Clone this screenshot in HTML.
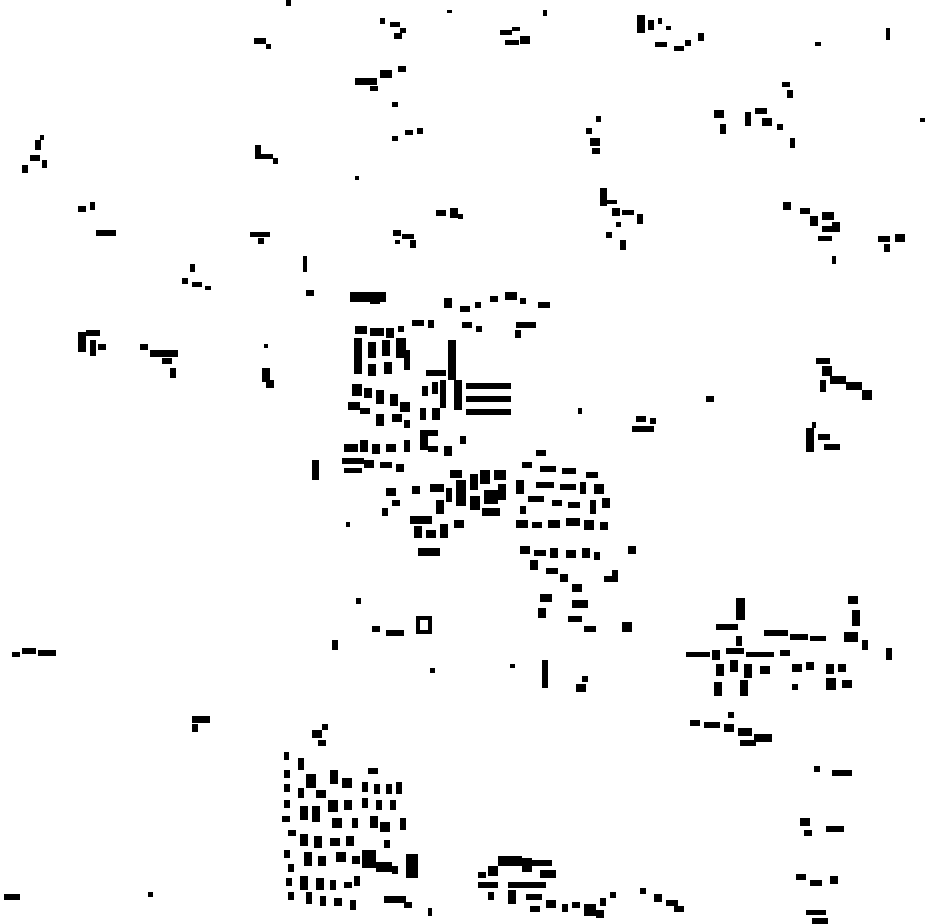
<!DOCTYPE html>
<html><head><meta charset="utf-8"><style>html,body{margin:0;padding:0;background:#fff}svg{display:block}</style></head>
<body>
<svg width="930" height="924" viewBox="0 0 930 924" xmlns="http://www.w3.org/2000/svg">
<g fill="#000">
<!-- top area -->
<rect x="286" y="0" width="5" height="6"/><rect x="254" y="38" width="12" height="6"/><rect x="266" y="44" width="5" height="5"/>
<rect x="380" y="18" width="5" height="6"/><rect x="390" y="22" width="10" height="5"/><rect x="394" y="33" width="8" height="6"/><rect x="400" y="28" width="6" height="5"/>
<rect x="447" y="10" width="5" height="3"/><rect x="543" y="10" width="4" height="6"/>
<rect x="500" y="30" width="12" height="5"/><rect x="505" y="40" width="14" height="5"/><rect x="520" y="36" width="10" height="8"/><rect x="512" y="27" width="8" height="4"/>
<rect x="637" y="15" width="8" height="18"/><rect x="648" y="20" width="6" height="10"/><rect x="658" y="18" width="4" height="6"/><rect x="655" y="42" width="12" height="5"/><rect x="674" y="46" width="10" height="5"/><rect x="685" y="40" width="6" height="6"/><rect x="698" y="33" width="6" height="8"/><rect x="666" y="26" width="5" height="4"/>
<rect x="815" y="42" width="6" height="4"/><rect x="886" y="28" width="4" height="12"/>
<rect x="355" y="78" width="22" height="7"/><rect x="380" y="70" width="12" height="8"/><rect x="398" y="66" width="8" height="6"/><rect x="370" y="86" width="8" height="5"/><rect x="392" y="102" width="6" height="5"/>
<rect x="782" y="82" width="8" height="5"/><rect x="787" y="90" width="6" height="8"/>
<rect x="714" y="110" width="10" height="8"/><rect x="720" y="124" width="6" height="10"/><rect x="745" y="112" width="6" height="14"/><rect x="755" y="108" width="12" height="6"/><rect x="762" y="118" width="10" height="8"/><rect x="777" y="124" width="6" height="6"/><rect x="790" y="138" width="5" height="10"/>
<rect x="405" y="130" width="8" height="5"/><rect x="417" y="128" width="6" height="6"/><rect x="392" y="136" width="6" height="5"/>
<rect x="586" y="128" width="6" height="6"/><rect x="590" y="138" width="10" height="8"/><rect x="596" y="116" width="5" height="6"/><rect x="592" y="148" width="8" height="6"/><rect x="920" y="118" width="5" height="4"/>
<rect x="35" y="140" width="6" height="10"/><rect x="30" y="155" width="10" height="6"/><rect x="22" y="165" width="6" height="8"/><rect x="42" y="160" width="5" height="8"/><rect x="40" y="135" width="4" height="5"/>
<rect x="255" y="145" width="6" height="14"/><rect x="255" y="154" width="18" height="5"/><rect x="273" y="158" width="5" height="6"/><rect x="355" y="176" width="4" height="4"/>
<rect x="600" y="188" width="7" height="18"/><rect x="607" y="200" width="10" height="4"/><rect x="612" y="208" width="8" height="8"/><rect x="622" y="210" width="12" height="5"/><rect x="637" y="214" width="6" height="10"/><rect x="606" y="232" width="6" height="6"/><rect x="620" y="240" width="6" height="10"/><rect x="616" y="222" width="5" height="5"/>
<rect x="783" y="202" width="8" height="8"/><rect x="800" y="208" width="10" height="6"/><rect x="810" y="216" width="8" height="10"/><rect x="822" y="212" width="12" height="8"/><rect x="822" y="226" width="10" height="6"/><rect x="832" y="222" width="8" height="10"/><rect x="818" y="236" width="14" height="5"/><rect x="832" y="256" width="4" height="8"/>
<rect x="878" y="236" width="12" height="6"/><rect x="895" y="234" width="10" height="8"/><rect x="884" y="244" width="6" height="8"/>
<rect x="78" y="206" width="8" height="6"/><rect x="90" y="202" width="5" height="8"/><rect x="96" y="230" width="20" height="6"/>
<rect x="436" y="210" width="10" height="6"/><rect x="450" y="208" width="8" height="10"/><rect x="458" y="214" width="5" height="5"/>
<rect x="250" y="232" width="20" height="5"/><rect x="258" y="238" width="6" height="6"/>
<rect x="393" y="230" width="8" height="6"/><rect x="402" y="234" width="12" height="5"/><rect x="410" y="240" width="6" height="8"/><rect x="395" y="240" width="5" height="4"/>
<rect x="190" y="264" width="5" height="8"/><rect x="182" y="278" width="6" height="6"/><rect x="192" y="282" width="10" height="5"/><rect x="205" y="286" width="6" height="4"/>
<rect x="303" y="256" width="4" height="16"/><rect x="306" y="290" width="8" height="6"/>
<!-- central cluster -->
<rect x="350" y="292" width="36" height="10"/><rect x="370" y="294" width="10" height="10"/>
<rect x="444" y="298" width="8" height="10"/><rect x="460" y="306" width="10" height="6"/><rect x="490" y="296" width="8" height="6"/><rect x="505" y="292" width="12" height="8"/><rect x="520" y="298" width="6" height="6"/><rect x="538" y="302" width="12" height="6"/><rect x="475" y="302" width="6" height="6"/>
<rect x="355" y="326" width="12" height="8"/><rect x="370" y="328" width="14" height="8"/><rect x="386" y="328" width="8" height="10"/><rect x="398" y="326" width="6" height="6"/>
<rect x="412" y="320" width="12" height="6"/><rect x="428" y="320" width="6" height="8"/><rect x="462" y="322" width="10" height="6"/><rect x="476" y="326" width="6" height="6"/><rect x="516" y="322" width="20" height="6"/><rect x="515" y="330" width="6" height="8"/>
<rect x="354" y="338" width="8" height="36"/><rect x="368" y="342" width="8" height="16"/><rect x="382" y="340" width="8" height="16"/><rect x="396" y="338" width="10" height="20"/><rect x="404" y="350" width="6" height="20"/>
<rect x="368" y="364" width="8" height="12"/><rect x="384" y="362" width="8" height="12"/>
<rect x="448" y="340" width="8" height="40"/><rect x="426" y="370" width="20" height="6"/>
<rect x="466" y="383" width="45" height="6"/><rect x="466" y="396" width="45" height="6"/><rect x="466" y="409" width="45" height="6"/>
<rect x="352" y="384" width="10" height="12"/><rect x="364" y="388" width="8" height="10"/><rect x="376" y="390" width="8" height="14"/><rect x="390" y="394" width="8" height="12"/><rect x="400" y="402" width="10" height="10"/><rect x="348" y="402" width="12" height="8"/><rect x="360" y="408" width="10" height="6"/>
<rect x="422" y="386" width="6" height="10"/><rect x="432" y="382" width="6" height="12"/><rect x="440" y="380" width="6" height="28"/><rect x="454" y="380" width="8" height="30"/><rect x="420" y="408" width="6" height="12"/><rect x="432" y="408" width="8" height="12"/>
<rect x="376" y="414" width="8" height="12"/><rect x="392" y="414" width="10" height="8"/><rect x="404" y="420" width="6" height="8"/>
<rect x="420" y="430" width="8" height="20"/><rect x="428" y="430" width="10" height="6"/><rect x="428" y="446" width="10" height="6"/><rect x="460" y="436" width="6" height="8"/><rect x="444" y="446" width="8" height="10"/>
<rect x="344" y="444" width="14" height="8"/><rect x="360" y="440" width="8" height="12"/><rect x="372" y="444" width="8" height="10"/><rect x="386" y="444" width="10" height="8"/><rect x="404" y="440" width="6" height="12"/>
<rect x="342" y="458" width="22" height="6"/><rect x="344" y="468" width="18" height="5"/><rect x="364" y="460" width="10" height="8"/><rect x="380" y="462" width="12" height="6"/><rect x="396" y="464" width="8" height="8"/>
<rect x="312" y="460" width="7" height="20"/>
<rect x="450" y="470" width="12" height="8"/><rect x="430" y="484" width="14" height="8"/><rect x="446" y="488" width="6" height="14"/><rect x="456" y="480" width="10" height="26"/><rect x="470" y="474" width="8" height="16"/><rect x="480" y="470" width="10" height="14"/><rect x="494" y="470" width="12" height="10"/><rect x="470" y="496" width="10" height="14"/><rect x="484" y="490" width="14" height="14"/><rect x="482" y="508" width="18" height="8"/><rect x="498" y="484" width="8" height="16"/><rect x="436" y="500" width="8" height="14"/>
<rect x="386" y="488" width="10" height="8"/><rect x="392" y="500" width="8" height="6"/><rect x="382" y="508" width="6" height="8"/><rect x="412" y="486" width="8" height="8"/>
<rect x="536" y="450" width="10" height="6"/><rect x="522" y="462" width="10" height="6"/><rect x="540" y="466" width="16" height="6"/><rect x="562" y="468" width="14" height="6"/><rect x="536" y="482" width="18" height="6"/><rect x="560" y="484" width="16" height="6"/><rect x="586" y="472" width="12" height="6"/><rect x="580" y="482" width="6" height="12"/><rect x="594" y="484" width="10" height="10"/><rect x="516" y="480" width="8" height="14"/><rect x="528" y="496" width="16" height="6"/><rect x="552" y="500" width="10" height="6"/><rect x="568" y="502" width="12" height="6"/><rect x="590" y="500" width="6" height="14"/><rect x="602" y="498" width="8" height="10"/><rect x="520" y="506" width="6" height="8"/>
<rect x="410" y="516" width="22" height="8"/><rect x="414" y="526" width="8" height="12"/><rect x="426" y="530" width="10" height="8"/><rect x="440" y="524" width="8" height="14"/><rect x="454" y="520" width="10" height="8"/><rect x="418" y="548" width="22" height="8"/><rect x="346" y="522" width="4" height="5"/>
<rect x="516" y="520" width="12" height="8"/><rect x="532" y="522" width="10" height="6"/><rect x="548" y="520" width="12" height="8"/><rect x="566" y="518" width="14" height="8"/><rect x="584" y="520" width="10" height="10"/><rect x="600" y="522" width="8" height="8"/>
<rect x="520" y="546" width="10" height="8"/><rect x="534" y="550" width="12" height="6"/><rect x="550" y="548" width="8" height="10"/><rect x="566" y="550" width="10" height="8"/><rect x="582" y="548" width="8" height="10"/><rect x="594" y="552" width="6" height="8"/><rect x="628" y="546" width="8" height="8"/>
<rect x="530" y="560" width="8" height="10"/><rect x="546" y="568" width="12" height="6"/><rect x="560" y="574" width="8" height="8"/><rect x="604" y="576" width="14" height="6"/><rect x="612" y="570" width="6" height="6"/>
<rect x="540" y="594" width="12" height="8"/><rect x="572" y="584" width="10" height="8"/><rect x="572" y="600" width="16" height="8"/><rect x="538" y="608" width="8" height="10"/><rect x="568" y="616" width="14" height="6"/><rect x="584" y="626" width="12" height="6"/><rect x="622" y="622" width="10" height="10"/>
<rect x="356" y="598" width="5" height="6"/><rect x="416" y="616" width="14" height="4"/><rect x="416" y="616" width="4" height="18"/><rect x="416" y="630" width="14" height="4"/><rect x="428" y="616" width="4" height="18"/><rect x="386" y="630" width="18" height="6"/><rect x="372" y="626" width="8" height="6"/><rect x="332" y="640" width="6" height="10"/><rect x="430" y="668" width="5" height="5"/><rect x="510" y="664" width="5" height="4"/>
<rect x="542" y="660" width="6" height="28"/><rect x="576" y="684" width="10" height="8"/><rect x="582" y="676" width="6" height="6"/>
<!-- left/middle -->
<rect x="78" y="332" width="8" height="20"/><rect x="86" y="330" width="14" height="6"/><rect x="90" y="340" width="6" height="16"/><rect x="98" y="344" width="8" height="6"/>
<rect x="140" y="344" width="8" height="6"/><rect x="150" y="350" width="28" height="7"/><rect x="162" y="358" width="10" height="6"/><rect x="170" y="368" width="6" height="10"/>
<rect x="262" y="368" width="8" height="14"/><rect x="266" y="380" width="8" height="8"/><rect x="264" y="344" width="4" height="4"/>
<rect x="578" y="408" width="4" height="6"/><rect x="706" y="396" width="8" height="6"/>
<rect x="636" y="416" width="10" height="6"/><rect x="632" y="426" width="22" height="6"/><rect x="650" y="418" width="6" height="6"/>
<rect x="816" y="358" width="14" height="6"/><rect x="822" y="366" width="10" height="10"/><rect x="830" y="376" width="16" height="8"/><rect x="846" y="382" width="16" height="8"/><rect x="862" y="390" width="10" height="10"/><rect x="820" y="380" width="6" height="12"/>
<rect x="806" y="428" width="8" height="24"/><rect x="818" y="434" width="12" height="6"/><rect x="824" y="444" width="16" height="6"/><rect x="812" y="422" width="4" height="6"/>
<rect x="12" y="652" width="8" height="5"/><rect x="22" y="648" width="14" height="6"/><rect x="38" y="650" width="18" height="6"/>
<rect x="192" y="716" width="18" height="7"/><rect x="192" y="724" width="6" height="8"/>
<!-- right mid -->
<rect x="736" y="598" width="9" height="22"/><rect x="716" y="624" width="22" height="6"/><rect x="764" y="630" width="24" height="6"/><rect x="790" y="634" width="18" height="6"/><rect x="810" y="636" width="16" height="5"/><rect x="848" y="596" width="10" height="8"/><rect x="852" y="610" width="8" height="16"/><rect x="844" y="632" width="14" height="10"/><rect x="862" y="640" width="6" height="10"/><rect x="886" y="648" width="6" height="12"/>
<rect x="686" y="652" width="24" height="5"/><rect x="712" y="650" width="8" height="10"/><rect x="726" y="648" width="18" height="6"/><rect x="746" y="652" width="28" height="5"/><rect x="780" y="650" width="10" height="6"/><rect x="736" y="636" width="6" height="10"/>
<rect x="716" y="664" width="8" height="12"/><rect x="730" y="660" width="8" height="12"/><rect x="744" y="664" width="8" height="14"/><rect x="760" y="666" width="10" height="8"/><rect x="792" y="664" width="10" height="8"/><rect x="806" y="662" width="8" height="8"/><rect x="826" y="664" width="8" height="10"/><rect x="838" y="664" width="8" height="8"/>
<rect x="714" y="682" width="8" height="14"/><rect x="740" y="680" width="8" height="16"/><rect x="826" y="678" width="10" height="12"/><rect x="842" y="680" width="10" height="8"/><rect x="792" y="684" width="6" height="6"/>
<rect x="690" y="720" width="10" height="6"/><rect x="704" y="722" width="16" height="6"/><rect x="724" y="724" width="10" height="8"/><rect x="738" y="728" width="14" height="8"/><rect x="754" y="734" width="18" height="8"/><rect x="740" y="740" width="16" height="6"/><rect x="728" y="712" width="6" height="6"/>
<rect x="814" y="766" width="6" height="6"/><rect x="832" y="770" width="20" height="6"/>
<rect x="800" y="818" width="10" height="8"/><rect x="804" y="830" width="8" height="6"/><rect x="826" y="826" width="18" height="6"/>
<rect x="796" y="874" width="10" height="6"/><rect x="810" y="880" width="12" height="6"/><rect x="830" y="876" width="8" height="8"/>
<rect x="806" y="910" width="20" height="5"/><rect x="812" y="918" width="16" height="6"/>
<!-- bottom-left cluster -->
<rect x="312" y="730" width="10" height="8"/><rect x="318" y="740" width="8" height="6"/><rect x="322" y="724" width="6" height="6"/>
<rect x="284" y="752" width="5" height="8"/><rect x="298" y="758" width="6" height="12"/><rect x="306" y="774" width="10" height="14"/><rect x="284" y="770" width="6" height="8"/><rect x="284" y="784" width="6" height="8"/><rect x="298" y="788" width="6" height="10"/><rect x="316" y="790" width="10" height="8"/><rect x="330" y="770" width="8" height="14"/><rect x="342" y="778" width="10" height="10"/><rect x="368" y="768" width="10" height="6"/>
<rect x="362" y="782" width="6" height="10"/><rect x="374" y="784" width="6" height="10"/><rect x="386" y="784" width="6" height="10"/><rect x="396" y="782" width="6" height="12"/><rect x="362" y="798" width="6" height="10"/><rect x="376" y="800" width="6" height="10"/><rect x="390" y="800" width="6" height="10"/>
<rect x="284" y="800" width="6" height="8"/><rect x="282" y="816" width="8" height="6"/><rect x="300" y="806" width="8" height="14"/><rect x="312" y="806" width="8" height="16"/><rect x="328" y="800" width="10" height="12"/><rect x="344" y="800" width="8" height="10"/><rect x="332" y="818" width="10" height="10"/><rect x="352" y="818" width="6" height="10"/><rect x="370" y="816" width="8" height="12"/><rect x="380" y="822" width="10" height="10"/><rect x="400" y="818" width="6" height="12"/>
<rect x="288" y="830" width="8" height="6"/><rect x="300" y="834" width="8" height="12"/><rect x="314" y="836" width="8" height="12"/><rect x="330" y="838" width="10" height="8"/><rect x="346" y="836" width="8" height="10"/><rect x="284" y="850" width="6" height="8"/><rect x="288" y="864" width="6" height="8"/><rect x="304" y="852" width="8" height="14"/><rect x="318" y="856" width="8" height="10"/><rect x="336" y="852" width="10" height="10"/><rect x="352" y="856" width="8" height="8"/>
<rect x="362" y="850" width="14" height="18"/><rect x="376" y="862" width="16" height="10"/><rect x="392" y="866" width="6" height="8"/><rect x="406" y="854" width="12" height="24"/><rect x="384" y="840" width="6" height="8"/>
<rect x="286" y="878" width="6" height="8"/><rect x="300" y="876" width="8" height="14"/><rect x="316" y="878" width="8" height="12"/><rect x="330" y="880" width="6" height="10"/><rect x="344" y="882" width="8" height="6"/><rect x="354" y="876" width="6" height="10"/>
<rect x="288" y="892" width="6" height="8"/><rect x="306" y="892" width="6" height="12"/><rect x="320" y="896" width="6" height="10"/><rect x="334" y="898" width="8" height="8"/><rect x="350" y="900" width="6" height="10"/><rect x="384" y="896" width="22" height="7"/><rect x="404" y="902" width="8" height="6"/><rect x="428" y="908" width="4" height="8"/>
<rect x="4" y="894" width="16" height="6"/><rect x="148" y="892" width="5" height="5"/>
<!-- bottom middle -->
<rect x="498" y="856" width="24" height="10"/><rect x="522" y="858" width="10" height="14"/><rect x="532" y="860" width="20" height="6"/><rect x="488" y="866" width="10" height="10"/><rect x="478" y="872" width="8" height="6"/><rect x="540" y="870" width="16" height="8"/>
<rect x="478" y="882" width="20" height="6"/><rect x="508" y="882" width="38" height="6"/><rect x="508" y="890" width="8" height="14"/><rect x="526" y="894" width="16" height="6"/><rect x="546" y="900" width="10" height="8"/><rect x="530" y="906" width="10" height="6"/><rect x="488" y="892" width="6" height="8"/>
<rect x="562" y="904" width="6" height="8"/><rect x="572" y="902" width="8" height="6"/><rect x="584" y="904" width="12" height="12"/><rect x="600" y="898" width="6" height="8"/><rect x="610" y="892" width="6" height="6"/><rect x="596" y="910" width="8" height="8"/>
<rect x="640" y="888" width="6" height="6"/><rect x="654" y="894" width="8" height="8"/><rect x="666" y="900" width="12" height="6"/><rect x="674" y="906" width="10" height="6"/>
</g>
</svg>
</body></html>
